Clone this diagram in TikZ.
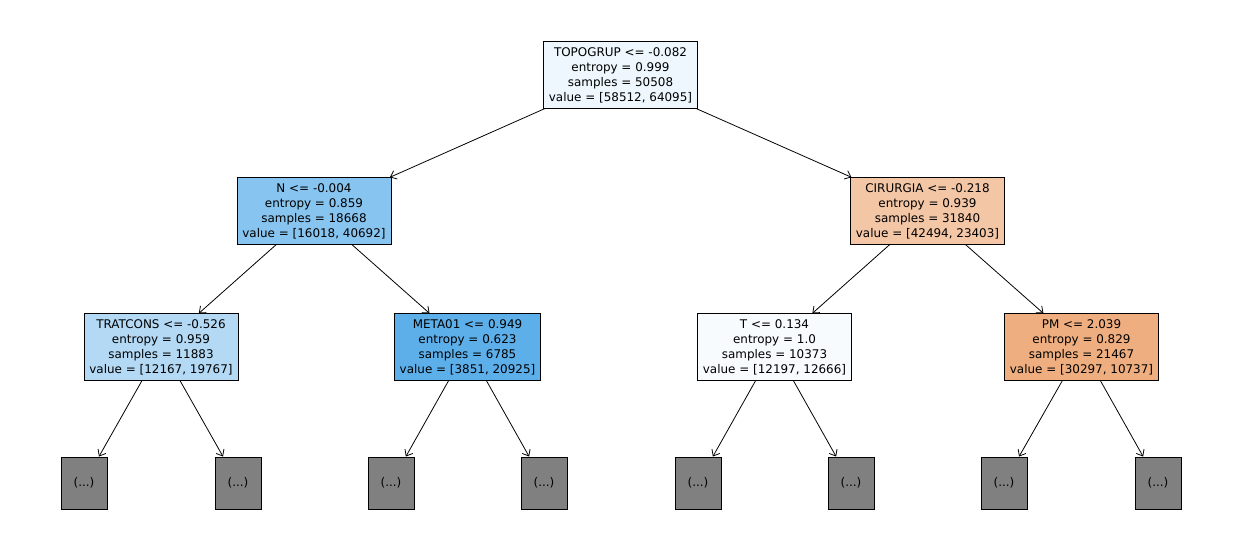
\documentclass[tikz,border=0pt]{standalone}
\usepackage{fontspec}
\setmainfont{DejaVu Sans}
\usetikzlibrary{arrows.meta}
\definecolor{rootfill}{HTML}{EEF7FD}
\definecolor{nfill}{HTML}{87C4EF}
\definecolor{tratfill}{HTML}{B3D9F5}
\definecolor{metafill}{HTML}{5DAFEA}
\definecolor{cirfill}{HTML}{F3C6A6}
\definecolor{tfill}{HTML}{F8FBFE}
\definecolor{pmfill}{HTML}{EEAE7F}
\definecolor{leafgray}{HTML}{808080}
\tikzset{
  splitbox/.style={draw=black, line width=0.5pt, align=center, inner xsep=3.1pt, inner ysep=3.2pt,
    font=\fontsize{6.8}{8.5}\selectfont},
  leafbox/.style={draw=black, line width=0.5pt, fill=leafgray, minimum width=0.92cm, minimum height=1.04cm,
    inner sep=0pt, font=\fontsize{6.8}{8.5}\selectfont},
  link/.style={-{Straight Barb[length=1.1mm,width=1.8mm]}, line width=0.45pt}
}
\begin{document}
\begin{tikzpicture}[x=0.02cm, y=-0.02cm]
\useasboundingbox (0,0) rectangle (1242,558);
% depth 0
\node[splitbox, fill=rootfill] (root) at (620.5,75)
  {TOPOGRUP <= -0.082\\entropy = 0.999\\samples = 50508\\value = [58512, 64095]};
% depth 1
\node[splitbox, fill=nfill] (n) at (314,211)
  {N <= -0.004\\entropy = 0.859\\samples = 18668\\value = [16018, 40692]};
\node[splitbox, fill=cirfill] (cir) at (927.5,211)
  {CIRURGIA <= -0.218\\entropy = 0.939\\samples = 31840\\value = [42494, 23403]};
% depth 2
\node[splitbox, fill=tratfill] (trat) at (161,347)
  {TRATCONS <= -0.526\\entropy = 0.959\\samples = 11883\\value = [12167, 19767]};
\node[splitbox, fill=metafill] (meta) at (467.5,347)
  {META01 <= 0.949\\entropy = 0.623\\samples = 6785\\value = [3851, 20925]};
\node[splitbox, fill=tfill] (t) at (774.5,347)
  {T <= 0.134\\entropy = 1.0\\samples = 10373\\value = [12197, 12666]};
\node[splitbox, fill=pmfill] (pm) at (1081.5,347)
  {PM <= 2.039\\entropy = 0.829\\samples = 21467\\value = [30297, 10737]};
% truncated subtrees
\foreach \i/\x in {1/84,2/238,3/391,4/544,5/698,6/851,7/1004,8/1158}
  \node[leafbox] (leaf\i) at (\x,483) {(...)};
% connectors
\draw[link] (root) -- (n);
\draw[link] (root) -- (cir);
\draw[link] (n) -- (trat);
\draw[link] (n) -- (meta);
\draw[link] (cir) -- (t);
\draw[link] (cir) -- (pm);
\draw[link] (trat) -- (leaf1);
\draw[link] (trat) -- (leaf2);
\draw[link] (meta) -- (leaf3);
\draw[link] (meta) -- (leaf4);
\draw[link] (t) -- (leaf5);
\draw[link] (t) -- (leaf6);
\draw[link] (pm) -- (leaf7);
\draw[link] (pm) -- (leaf8);
\end{tikzpicture}
\end{document}
